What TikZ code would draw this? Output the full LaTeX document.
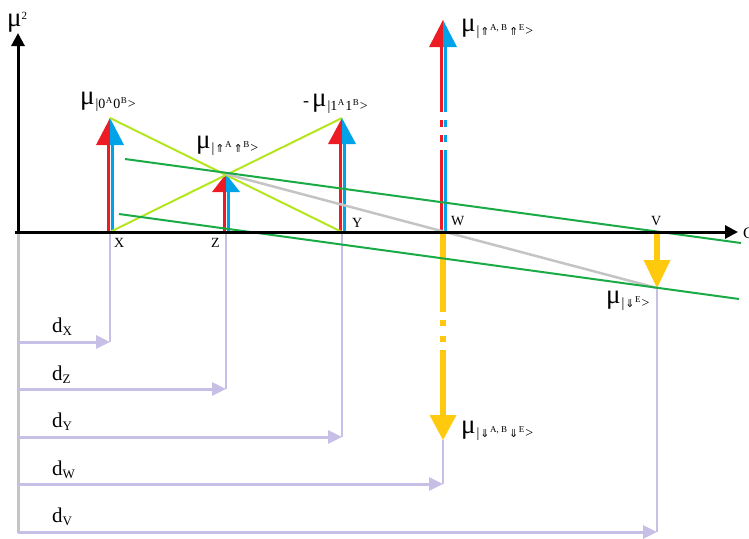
\documentclass[tikz,border=0pt]{standalone}
\usepackage{fontspec}
\setmainfont{Liberation Serif}
\newfontfamily\dvs{DejaVu Sans}
\usetikzlibrary{arrows.meta}
\definecolor{rd}{RGB}{237,28,36}
\definecolor{bl}{RGB}{0,162,232}
\definecolor{yl}{RGB}{255,201,14}
\definecolor{gn}{RGB}{26,170,70}
\definecolor{yg}{RGB}{181,230,29}
\definecolor{gy}{RGB}{196,196,196}
\definecolor{lv}{RGB}{200,191,231}
\newcommand\sz[2]{{\fontsize{#1}{#1}\selectfont #2}}
\newcommand\mymu{\sz{27}{μ}}
\newcommand\ksub[1]{\raisebox{-4pt}{\sz{14}{\kern1pt #1}}}
\newcommand\ksup[1]{\raisebox{4.5pt}{\sz{9}{\kern0.5pt#1\kern1pt}}}
\newcommand\uA{{\dvs\sz{11}{\kern1pt⇑}}}
\newcommand\dA{{\dvs\sz{11}{\kern1pt⇓}}}
% two-colour up arrow: centre, base y, head base y, tip y
\newcommand\rbhead[3]{%
  \fill[rd] (#1,#3) -- (#1-14,#2) -- (#1,#2) -- cycle;
  \fill[bl] (#1,#3) -- (#1+14,#2) -- (#1,#2) -- cycle;}
\newcommand\rbshaft[3]{%
  \fill[rd] (#1-3.5,#2) rectangle (#1-0.5,#3);
  \fill[bl] (#1+0.5,#2) rectangle (#1+3.5,#3);}
\newcommand\ylshaft[3]{\fill[yl] (#1-3.3,#2) rectangle (#1+3.3,#3);}
\newcommand\ylhead[3]{\fill[yl] (#1-13.5,#2) -- (#1+13.5,#2) -- (#1,#3) -- cycle;}
\tikzset{
  axis/.style={line width=3pt, -{Triangle[length=13pt,width=13pt]}},
  dist/.style={lv, line width=3pt, -{Triangle[length=14pt,width=13pt]}},
  drop/.style={lv, line width=1.6pt},
  gline/.style={gn, line width=2pt},
  ygline/.style={yg, line width=2pt},
  gyline/.style={gy, line width=2.5pt},
  lab/.style={inner sep=0pt, anchor=base west},
  axlab/.style={inner sep=0pt, anchor=base west, font=\fontsize{14}{14}\selectfont},
  dlab/.style={inner sep=0pt, anchor=base west},
}
\begin{document}
\begin{tikzpicture}[x=1pt,y=-1pt]
\useasboundingbox (0,0) rectangle (749,538);
% key points
\coordinate (O) at (18,232);
\coordinate (Xb) at (110,232); \coordinate (Xt) at (110,118);
\coordinate (Zb) at (226,232); \coordinate (Zt) at (226,174);
\coordinate (Yb) at (342,232); \coordinate (Yt) at (342,118);
\coordinate (Wb) at (443,232); \coordinate (Wd) at (443,440);
\coordinate (Vb) at (657,232); \coordinate (Vd) at (657,288);
% gray vertical below origin
\draw[gy, line width=3pt] (O) -- (18,533);
% distance markers
\draw[drop] (Xb) -- (110,342);
\draw[drop] (Zb) -- (226,389);
\draw[drop] (Yb) -- (342,437);
\draw[drop] (Wd) -- (443,484);
\draw[drop] (Vd) -- (657,532);
\draw[dist] (18,342) -- (110,342);
\draw[dist] (18,389) -- (226,389);
\draw[dist] (18,437) -- (342,437);
\draw[dist] (18,484) -- (443,484);
\draw[dist] (18,532) -- (657,532);
% red/blue arrows
\rbshaft{110}{232}{145}\rbhead{110}{145}{118}
\rbshaft{226}{232}{192}\rbhead{226}{192}{174}
\rbshaft{342}{232}{144}\rbhead{342}{144}{118}
\rbshaft{443}{232}{150}\rbshaft{443}{142}{135}\rbshaft{443}{127}{120}\rbshaft{443}{112}{47}
\rbhead{443}{47}{20}
% yellow arrows
\ylshaft{443}{232}{312}\ylshaft{443}{320}{326}\ylshaft{443}{336}{342}\ylshaft{443}{350}{416}
\ylhead{443}{415}{440}
\ylshaft{657}{232}{261}\ylhead{657}{260}{288}
% lines
\draw[ygline] (Xt) -- (Yb);
\draw[ygline] (Xb) -- (Yt);
\draw[gyline] (Zt) -- (Vd);
\draw[gline] (125,159) -- (741,243);
\draw[gline] (119,214) -- (739,299);
% axes
\draw[axis] (15,232) -- (738,232);
\draw[axis] (O) -- (18,33);
% labels
\node[lab] (mu2) at (7,27) {\mymu\raisebox{8pt}{\sz{11}{2}}};
\node[lab] (C) at (743,238) {\sz{16}{C}};
\node[lab] (l00) at (80,104) {\mymu\ksub{|0\ksup{A}0\ksup{B}>}};
\node[lab] (lupup) at (196,148) {\mymu\ksub{|\uA\ksup{A}\uA\ksup{B}>}};
\node[lab] (l11) at (303,106) {\sz{18}{-}\hspace{3pt}\mymu\ksub{|1\ksup{A}1\ksup{B}>}};
\node[lab] (lWu) at (461,31) {\mymu\ksub{|\uA\ksup{A, B}\uA\ksup{E}>}};
\node[lab] (lWd) at (461,433) {\mymu\ksub{|\dA\ksup{A, B}\dA\ksup{E}>}};
\node[lab] (lVd) at (606,303) {\mymu\ksub{|\dA\ksup{E}>}};
\node[axlab] (tX) at (114,247) {X};
\node[axlab] (tZ) at (211,247) {Z};
\node[axlab] (tY) at (352,227) {Y};
\node[axlab] (tW) at (451,225) {W};
\node[axlab] (tV) at (651,225) {V};
\node[dlab] (dX) at (52,332) {\sz{21}{d}\raisebox{-3pt}{\sz{13}{X}}};
\node[dlab] (dZ) at (52,380) {\sz{21}{d}\raisebox{-3pt}{\sz{13}{Z}}};
\node[dlab] (dY) at (52,427) {\sz{21}{d}\raisebox{-3pt}{\sz{13}{Y}}};
\node[dlab] (dW) at (52,475) {\sz{21}{d}\raisebox{-3pt}{\sz{13}{W}}};
\node[dlab] (dV) at (52,522) {\sz{21}{d}\raisebox{-3pt}{\sz{13}{V}}};
\end{tikzpicture}
\end{document}
